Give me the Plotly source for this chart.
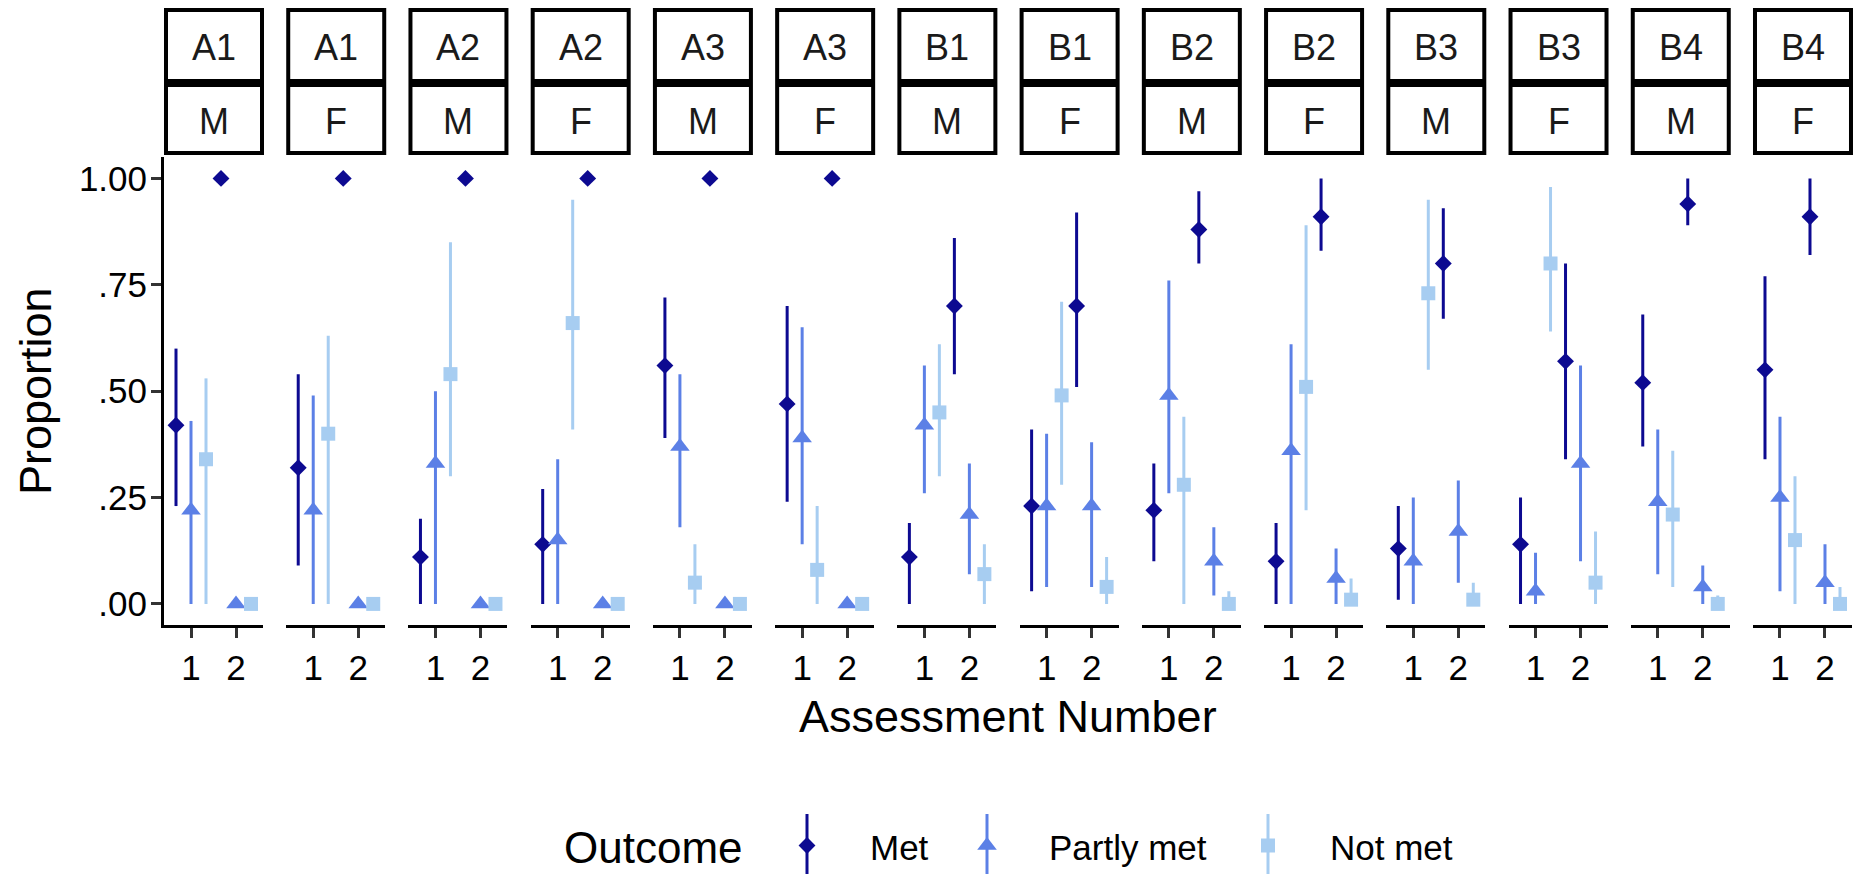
import plotly.graph_objects as go

W, H = 1856, 876
FONT = "Liberation Sans, Arial, sans-serif"

# ---------------- data ----------------
strip_top = ["A1", "A1", "A2", "A2", "A3", "A3", "B1", "B1", "B2", "B2", "B3", "B3", "B4", "B4"]
strip_sex = ["M", "F", "M", "F", "M", "F", "M", "F", "M", "F", "M", "F", "M", "F"]
assessments = [1, 2]
outcomes = ["Met", "Partly met", "Not met"]

# each entry: [assessment 1, assessment 2] per facet
met_est = [[.42, 1], [.32, 1], [.11, 1], [.14, 1], [.56, 1], [.47, 1], [.11, .70],
           [.23, .70], [.22, .88], [.10, .91], [.13, .80], [.14, .57], [.52, .94], [.55, .91]]
met_lo = [[.23, 1], [.09, 1], [0, 1], [0, 1], [.39, 1], [.24, 1], [0, .54],
          [.03, .51], [.10, .80], [0, .83], [.01, .67], [0, .34], [.37, .89], [.34, .82]]
met_hi = [[.60, 1], [.54, 1], [.20, 1], [.27, 1], [.72, 1], [.70, 1], [.19, .86],
          [.41, .92], [.33, .97], [.19, 1.0], [.23, .93], [.25, .80], [.68, 1.0], [.77, 1.0]]

partly_est = [[.22, 0], [.22, 0], [.33, 0], [.15, 0], [.37, 0], [.39, 0], [.42, .21],
              [.23, .23], [.49, .10], [.36, .06], [.10, .17], [.03, .33], [.24, .04], [.25, .05]]
partly_lo = [[0, 0], [0, 0], [0, 0], [0, 0], [.18, 0], [.14, 0], [.26, .07],
             [.04, .04], [.26, .02], [0, 0], [0, .05], [0, .10], [.07, 0], [.03, 0]]
partly_hi = [[.43, 0], [.49, 0], [.50, 0], [.34, 0], [.54, 0], [.65, 0], [.56, .33],
             [.40, .38], [.76, .18], [.61, .13], [.25, .29], [.12, .56], [.41, .09], [.44, .14]]

notmet_est = [[.34, 0], [.40, 0], [.54, 0], [.66, 0], [.05, 0], [.08, 0], [.45, .07],
              [.49, .04], [.28, 0], [.51, .01], [.73, .01], [.80, .05], [.21, 0], [.15, 0]]
notmet_lo = [[0, 0], [0, 0], [.30, 0], [.41, 0], [0, 0], [0, 0], [.30, 0],
             [.28, 0], [0, 0], [.22, 0], [.55, 0], [.64, 0], [.04, 0], [0, 0]]
notmet_hi = [[.53, 0], [.63, 0], [.85, 0], [.95, 0], [.14, 0], [.23, 0], [.61, .14],
             [.71, .11], [.44, .03], [.89, .06], [.95, .05], [.98, .17], [.36, .02], [.30, .04]]

y_tickvals = [0, .25, .5, .75, 1]
y_ticktext = [".00", ".25", ".50", ".75", "1.00"]

# ---------------- styling ----------------
colors = ["#0d0a91", "#5c80e6", "#a7cdf1"]
symbols = ["diamond", "triangle-up", "square"]
msizes = [13, 17, 14]
dodge = 1.0
offsets = [(j - 1) * dodge / 3 for j in range(3)]

series = [(met_est, met_lo, met_hi), (partly_est, partly_lo, partly_hi),
          (notmet_est, notmet_lo, notmet_hi)]

PANEL_L0, PANEL_STEP, PANEL_W = 164.0, 122.23, 99.0
Y_TOP, Y_BOT = 157.1, 625.2

fig = go.Figure()
layout_axes = {}
shapes = []
annotations = []

n = len(strip_top)
for k in range(n):
    sfx = "" if k == 0 else str(k + 1)
    left = PANEL_L0 + PANEL_STEP * k
    layout_axes["xaxis" + sfx] = dict(
        domain=[left / W, (left + PANEL_W) / W], range=[0.4, 2.6], anchor="y" + sfx,
        tickvals=assessments, ticktext=[str(a) for a in assessments],
        showline=True, linecolor="black", linewidth=3,
        ticks="outside", ticklen=10, tickwidth=3, tickcolor="#333333",
        tickfont=dict(family=FONT, size=35, color="black"),
        showgrid=False, zeroline=False, fixedrange=True)
    layout_axes["yaxis" + sfx] = dict(
        domain=[1 - Y_BOT / H, 1 - Y_TOP / H], range=[-0.05, 1.05], anchor="x" + sfx,
        tickvals=y_tickvals, ticktext=y_ticktext, showticklabels=(k == 0),
        showline=(k == 0), linecolor="black", linewidth=3,
        ticks="outside" if k == 0 else "", ticklen=10, tickwidth=3, tickcolor="#333333",
        ticklabelstandoff=-3,
        tickfont=dict(family=FONT, size=35, color="black"),
        showgrid=False, zeroline=False, fixedrange=True)

    for j, (est, lo, hi) in enumerate(series):
        e = est[k]
        fig.add_trace(go.Scatter(
            x=[a + offsets[j] for a in assessments], y=e,
            mode="markers",
            marker=dict(symbol=symbols[j], size=msizes[j], color=colors[j], line=dict(width=0)),
            error_y=dict(type="data", symmetric=False,
                         array=[h - v for h, v in zip(hi[k], e)],
                         arrayminus=[v - l for v, l in zip(e, lo[k])],
                         thickness=3, width=0, color=colors[j]),
            xaxis="x" + sfx, yaxis="y" + sfx, showlegend=False, name=outcomes[j],
            cliponaxis=False))

    # strips
    x0 = (left + 2) / W
    x1 = (left + PANEL_W - 1) / W
    for (ya, yb), label in (((10, 81), strip_top[k]), ((85, 153), strip_sex[k])):
        shapes.append(dict(type="rect", xref="paper", yref="paper", x0=x0, x1=x1,
                           y0=1 - yb / H, y1=1 - ya / H, line=dict(color="black", width=4),
                           fillcolor="white", layer="below"))
        annotations.append(dict(xref="paper", yref="paper", x=(x0 + x1) / 2,
                                y=1 - ((ya + yb) / 2 + 2) / H, text=label, showarrow=False,
                                xanchor="center", yanchor="middle",
                                font=dict(family=FONT, size=36, color="#1a1a1a")))

# axis titles
annotations.append(dict(xref="paper", yref="paper", x=(PANEL_L0 + PANEL_L0 + PANEL_STEP * 13 + PANEL_W) / 2 / W,
                        y=1 - 716 / H, text="Assessment Number", showarrow=False,
                        xanchor="center", yanchor="middle",
                        font=dict(family=FONT, size=45, color="black")))
annotations.append(dict(xref="paper", yref="paper", x=35 / W, y=1 - 391 / H,
                        text="Proportion", textangle=-90, showarrow=False,
                        xanchor="center", yanchor="middle",
                        font=dict(family=FONT, size=45, color="black")))

# ---------------- custom legend ----------------
LEG_TITLE_X = 562
LEG_GLYPH_X = [807, 987, 1268]
LEG_LABEL_X = [868, 1047, 1328]
LEG_Y = 847
layout_axes["xaxis15"] = dict(domain=[0, 1], range=[0, W], visible=False, fixedrange=True)
layout_axes["yaxis15"] = dict(domain=[1 - 874 / H, 1 - 814 / H], range=[-1, 1],
                              anchor="x15", visible=False, fixedrange=True)
for j in range(3):
    fig.add_trace(go.Scatter(
        x=[LEG_GLYPH_X[j]], y=[-0.05], mode="markers",
        marker=dict(symbol=symbols[j], size=msizes[j], color=colors[j], line=dict(width=0)),
        error_y=dict(type="data", symmetric=False, array=[1.05], arrayminus=[0.95],
                     thickness=3, width=0, color=colors[j]),
        xaxis="x15", yaxis="y15", showlegend=False, hoverinfo="skip", cliponaxis=False))
    annotations.append(dict(xref="paper", yref="paper", x=LEG_LABEL_X[j] / W, y=1 - LEG_Y / H,
                            text=outcomes[j], showarrow=False, xanchor="left", yanchor="middle",
                            font=dict(family=FONT, size=35, color="black")))
annotations.append(dict(xref="paper", yref="paper", x=LEG_TITLE_X / W, y=1 - LEG_Y / H,
                        text="Outcome", showarrow=False, xanchor="left", yanchor="middle",
                        font=dict(family=FONT, size=44, color="black")))

fig.update_layout(
    width=W, height=H, margin=dict(l=0, r=0, t=0, b=0),
    paper_bgcolor="white", plot_bgcolor="white",
    showlegend=False, shapes=shapes, annotations=annotations,
    font=dict(family=FONT, color="black"),
    **layout_axes)

fig.write_html("out.html")
